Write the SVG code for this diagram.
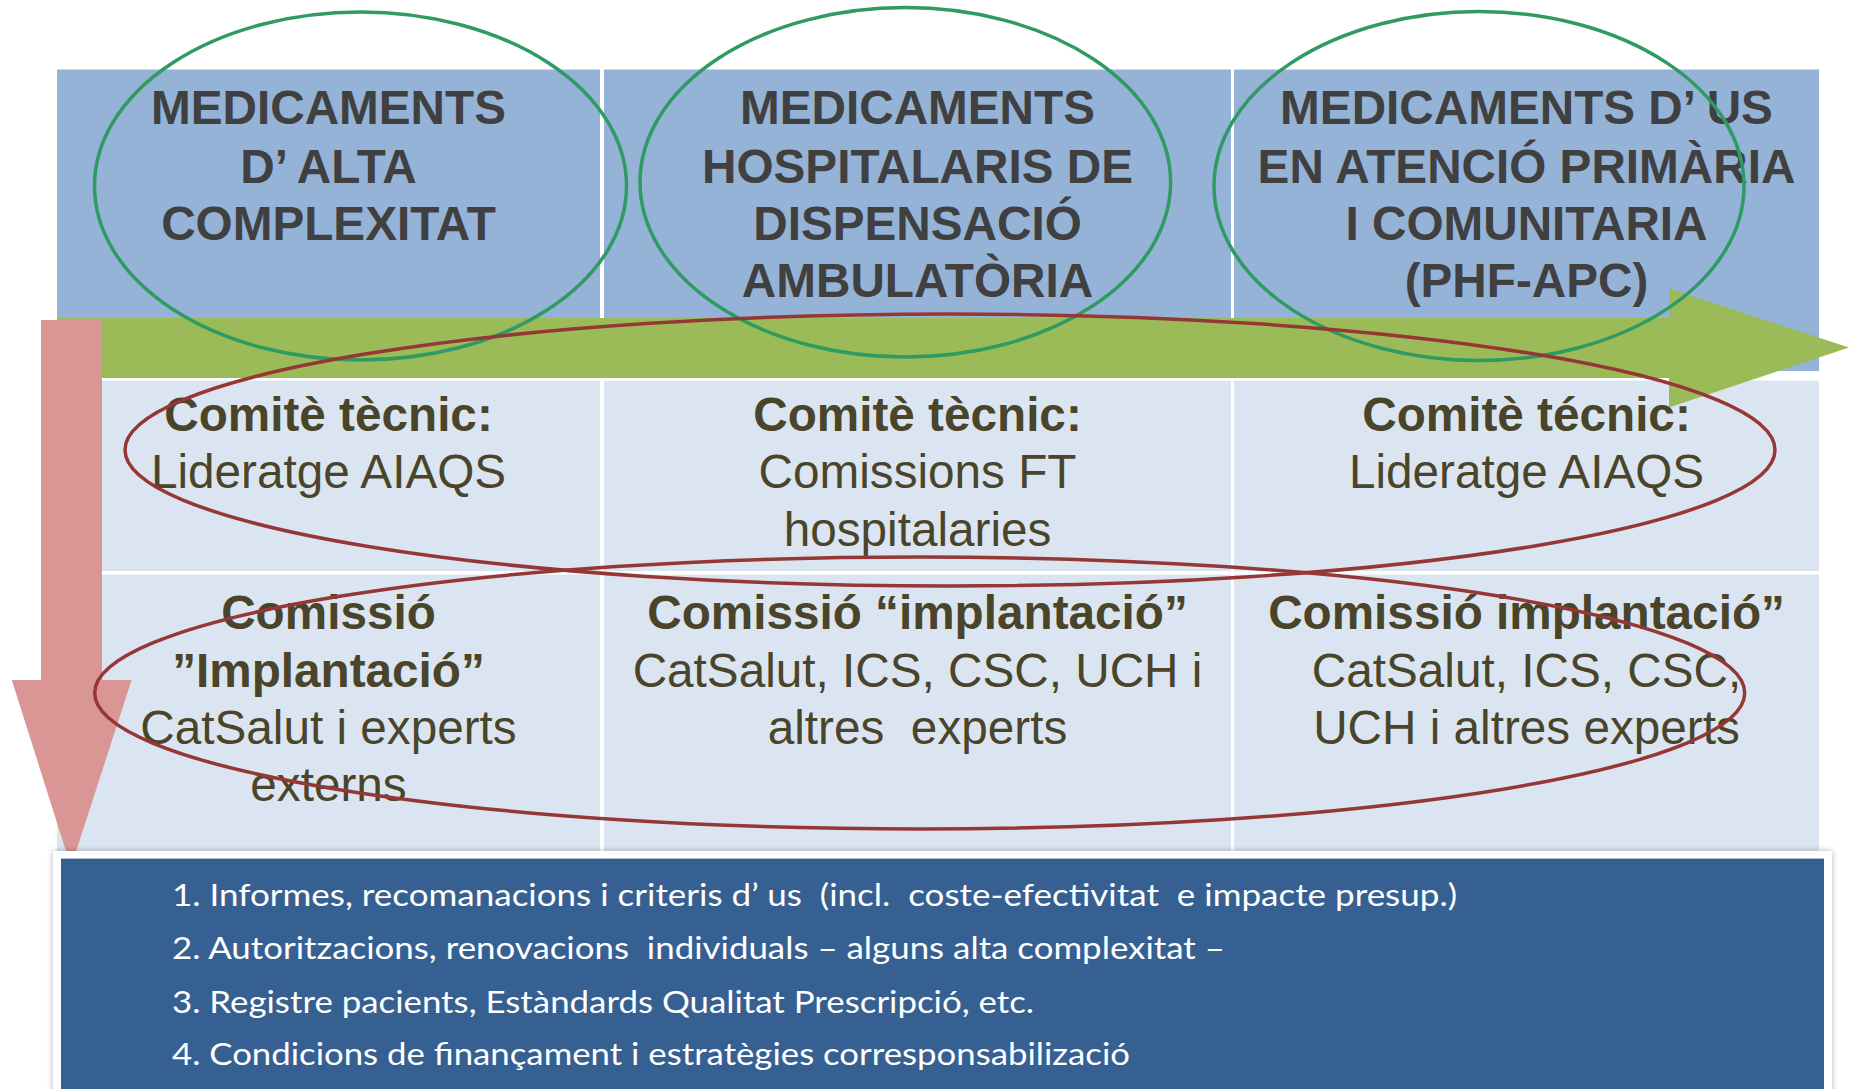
<svg xmlns="http://www.w3.org/2000/svg" width="1849" height="1089" viewBox="0 0 1849 1089">
<defs>
<style>
.hdr{fill:#95b3d7}
.cell{fill:#dbe5f1}
.ht{font-family:"Liberation Sans",Arial,sans-serif;font-weight:bold;font-size:47.7px;fill:#404040;text-anchor:middle}
.ct{font-family:"Liberation Sans",Arial,sans-serif;font-size:47.7px;fill:#4a452a;text-anchor:middle;white-space:pre}
.b{font-weight:bold}
.lt{font-family:Lato,"Open Sans",sans-serif;font-size:30px;fill:#ffffff;white-space:pre}
.ge{fill:none;stroke:#2f9a62;stroke-width:3.5}
.re{fill:none;stroke:#953735;stroke-width:3.5}
</style>
<filter id="sh" x="-5%" y="-20%" width="110%" height="140%">
<feGaussianBlur in="SourceAlpha" stdDeviation="3"/>
<feComponentTransfer><feFuncA type="linear" slope="0.3"/></feComponentTransfer>
<feMerge><feMergeNode/><feMergeNode in="SourceGraphic"/></feMerge>
</filter>
</defs>
<rect width="1849" height="1089" fill="#ffffff"/>

<g id="header-1">
<rect class="hdr" x="57" y="69.5" width="543" height="301.5"/>
<text class="ht" x="328.5" y="124.4">MEDICAMENTS</text>
<text class="ht" x="328.5" y="182.5">D’ ALTA</text>
<text class="ht" x="328.5" y="240">COMPLEXITAT</text>
</g>
<g id="header-2">
<rect class="hdr" x="604" y="69.5" width="627" height="301.5"/>
<text class="ht" x="917.5" y="124.4">MEDICAMENTS</text>
<text class="ht" x="917.5" y="182.5">HOSPITALARIS DE</text>
<text class="ht" x="917.5" y="240">DISPENSACIÓ</text>
<text class="ht" x="917.5" y="297">AMBULATÒRIA</text>
</g>
<g id="header-3">
<rect class="hdr" x="1234" y="69.5" width="585" height="301.5"/>
<text class="ht" x="1526.5" y="124.4">MEDICAMENTS D’ US</text>
<text class="ht" x="1526.5" y="182.5">EN ATENCIÓ PRIMÀRIA</text>
<text class="ht" x="1526.5" y="240">I COMUNITARIA</text>
<text class="ht" x="1526.5" y="297">(PHF-APC)</text>
</g>

<g id="row1-col1"><rect class="cell" x="57" y="380.6" width="543" height="190.4"/></g>
<g id="row1-col2"><rect class="cell" x="604" y="380.6" width="627" height="190.4"/></g>
<g id="row1-col3"><rect class="cell" x="1234" y="380.6" width="585" height="190.4"/></g>
<g id="row2-col1"><rect class="cell" x="57" y="574.6" width="543" height="277.4"/></g>
<g id="row2-col2"><rect class="cell" x="604" y="574.6" width="627" height="277.4"/></g>
<g id="row2-col3"><rect class="cell" x="1234" y="574.6" width="585" height="277.4"/></g>

<g id="connectors">
<g id="green-arrow">
<rect x="57" y="318" width="1612" height="60" fill="#9bbb59"/>
<polygon points="1669,288.5 1849,347.6 1669,407.4" fill="#9bbb59"/>
</g>
<g id="pink-arrow">
<rect x="41" y="320" width="61" height="361" fill="#d99694"/>
<polygon points="11.8,680 131.6,680 71,867" fill="#d99694"/>
</g>
</g>

<g id="row1-texts">
<text class="ct b" x="328.5" y="431">Comitè tècnic:</text>
<text class="ct" x="328.5" y="488">Lideratge AIAQS</text>
<text class="ct b" x="917.5" y="431">Comitè tècnic:</text>
<text class="ct" x="917.5" y="488">Comissions FT</text>
<text class="ct" x="917.5" y="546">hospitalaries</text>
<text class="ct b" x="1526.5" y="431">Comitè técnic:</text>
<text class="ct" x="1526.5" y="488">Lideratge AIAQS</text>
</g>
<g id="row2-texts">
<text class="ct b" x="328.5" y="629">Comissió</text>
<text class="ct b" x="328.5" y="686.5">”Implantació”</text>
<text class="ct" x="328.5" y="744">CatSalut i experts</text>
<text class="ct" x="328.5" y="801">externs</text>
<text class="ct b" x="917.5" y="629">Comissió “implantació”</text>
<text class="ct" x="917.5" y="686.5">CatSalut, ICS, CSC, UCH i</text>
<text class="ct" x="917.5" y="744">altres  experts</text>
<text class="ct b" x="1526.5" y="629">Comissió implantació”</text>
<text class="ct" x="1526.5" y="686.5">CatSalut, ICS, CSC,</text>
<text class="ct" x="1526.5" y="744">UCH i altres experts</text>
</g>

<g id="outputs">
<rect x="53" y="851" width="1779" height="260" fill="#ffffff" filter="url(#sh)"/>
<rect x="61" y="858.6" width="1763" height="240" fill="#366092"/>
<text class="lt" x="172" y="905.5" textLength="1285" lengthAdjust="spacingAndGlyphs">1. Informes, recomanacions i criteris d’ us  (incl.  coste-efectivitat  e impacte presup.)</text>
<text class="lt" x="172" y="959" textLength="1053" lengthAdjust="spacingAndGlyphs">2. Autoritzacions, renovacions  individuals – alguns alta complexitat –</text>
<text class="lt" x="172" y="1013" textLength="862" lengthAdjust="spacingAndGlyphs">3. Registre pacients, Estàndards Qualitat Prescripció, etc.</text>
<text class="lt" x="172" y="1065" textLength="958" lengthAdjust="spacingAndGlyphs">4. Condicions de finançament i estratègies corresponsabilizació</text>
</g>

<g id="highlights">
<ellipse class="ge" cx="360.5" cy="186" rx="266" ry="174"/>
<ellipse class="ge" cx="905.3" cy="182.3" rx="265.3" ry="174.7"/>
<ellipse class="ge" cx="1479" cy="186" rx="265" ry="174.5"/>
<ellipse class="re" cx="950" cy="450" rx="825" ry="136"/>
<ellipse class="re" cx="919.7" cy="693" rx="825" ry="136"/>
</g>
</svg>
